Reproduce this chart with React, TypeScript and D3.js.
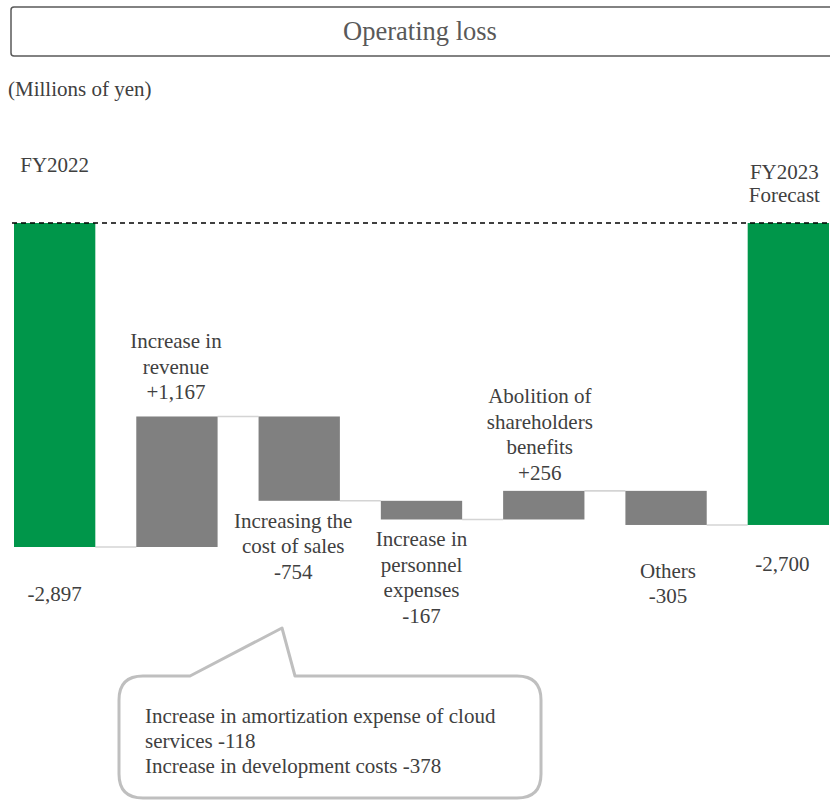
import React from "react";
import * as d3 from "d3";

const categories = [
  "FY2022",
  "Increase in revenue",
  "Increasing the cost of sales",
  "Increase in personnel expenses",
  "Abolition of shareholders benefits",
  "Others",
  "FY2023 Forecast",
];
const values = [-2897, 1167, -754, -167, 256, -305, -2700];
const isTotal = [true, false, false, false, false, false, true];
const nameLines = [
  ["FY2022"],
  ["Increase in", "revenue"],
  ["Increasing the", "cost of sales"],
  ["Increase in", "personnel", "expenses"],
  ["Abolition of", "shareholders", "benefits"],
  ["Others"],
  ["FY2023", "Forecast"],
];
const valueLabels = ["-2,897", "+1,167", "-754", "-167", "+256", "-305", "-2,700"];
const calloutLines = [
  "Increase in amortization expense of cloud",
  "services -118",
  "Increase in development costs -378",
];

const W = 830;
const H = 801;
const GREEN = "#00964a";
const GRAY = "#808080";
const TEXT = "#404040";
const FONT = "'Liberation Serif', 'Times New Roman', serif";

const labelDx = [0, -1, -6, 0, -4, 2, -6];

export default function App() {
  const x = d3.scaleBand<string>().domain(categories).range([14, 829]).paddingInner(0.335).paddingOuter(0);
  const y = d3.scaleLinear().domain([0, -2897]).range([223, 547]);

  let run = 0;
  const bars = values.map((v, i) => {
    let start: number, end: number;
    if (isTotal[i]) {
      start = 0;
      end = v;
    } else {
      start = run;
      end = run + v;
    }
    run = end;
    return { cat: categories[i], v, start, end, i };
  });

  const lh = 25.5;
  const labels: { x: number; y: number; text: string }[] = [];
  bars.forEach((b, i) => {
    const cx = (x(b.cat) as number) + x.bandwidth() / 2 + labelDx[i];
    const lines = isTotal[i] ? nameLines[i] : [...nameLines[i], valueLabels[i]];
    if (isTotal[i]) {
      const topBase = i === 0 ? 172 : 179;
      const nx = i === 0 ? cx : cx + 2;
      lines.forEach((t, k) => labels.push({ x: nx, y: topBase + k * 23, text: t }));
      const vy = y(b.end) + (i === 0 ? 54 : 46);
      labels.push({ x: cx, y: vy, text: valueLabels[i] });
    } else if (b.v > 0) {
      const top = y(Math.max(b.start, b.end));
      const gap = i === 1 ? 17 : 11;
      const n = lines.length;
      lines.forEach((t, k) => labels.push({ x: cx, y: top - gap - (n - 1 - k) * lh, text: t }));
    } else {
      const bottom = y(Math.min(b.start, b.end));
      const gap = i === 5 ? 53 : 27;
      lines.forEach((t, k) => labels.push({ x: cx, y: bottom + gap + k * lh, text: t }));
    }
  });

  const connectors = bars.slice(0, -1).map((b, i) => {
    const next = bars[i + 1];
    return {
      x1: (x(b.cat) as number) + x.bandwidth(),
      x2: x(next.cat) as number,
      y: y(b.end),
    };
  });

  const bx0 = 119, bx1 = 541, by0 = 676, by1 = 798, r = 24;
  const calloutPath = [
    `M${bx0 + r},${by0}`,
    `L190,${by0}`,
    `L282,628`,
    `L295,${by0}`,
    `L${bx1 - r},${by0}`,
    `Q${bx1},${by0} ${bx1},${by0 + r}`,
    `L${bx1},${by1 - r}`,
    `Q${bx1},${by1} ${bx1 - r},${by1}`,
    `L${bx0 + r},${by1}`,
    `Q${bx0},${by1} ${bx0},${by1 - r}`,
    `L${bx0},${by0 + r}`,
    `Q${bx0},${by0} ${bx0 + r},${by0}`,
    "Z",
  ].join(" ");

  return (
    <svg
      width={W}
      height={H}
      style={{ position: "absolute", left: 0, top: 0, background: "#fff", fontFamily: FONT }}
    >
      <rect x={0} y={0} width={W} height={H} fill="#fff" />
      <rect x={11} y={7} width={840} height={49} rx={3} fill="#fff" stroke="#595959" strokeWidth={1.5} />
      <text x={420} y={40} textAnchor="middle" fontSize={26.5} fill="#595959">
        Operating loss
      </text>
      <text x={8} y={96} fontSize={21} fill={TEXT}>
        (Millions of yen)
      </text>

      {connectors.map((c, i) => (
        <line key={i} x1={c.x1} x2={c.x2} y1={c.y} y2={c.y} stroke="#d4d4d4" strokeWidth={1.6} />
      ))}

      {bars.map((b) => (
        <rect
          key={b.cat}
          x={x(b.cat)}
          width={x.bandwidth()}
          y={y(Math.max(b.start, b.end))}
          height={Math.abs(y(b.end) - y(b.start))}
          fill={isTotal[b.i] ? GREEN : GRAY}
        />
      ))}

      <line x1={12} x2={830} y1={y(0)} y2={y(0)} stroke="#000" strokeWidth={1.3} strokeDasharray="5,4" />

      {labels.map((l, i) => (
        <text key={i} x={l.x} y={l.y} textAnchor="middle" fontSize={21} fill={TEXT}>
          {l.text}
        </text>
      ))}

      <path d={calloutPath} fill="#fff" stroke="#bfbfbf" strokeWidth={3} strokeLinejoin="round" />
      {calloutLines.map((t, i) => (
        <text key={i} x={145} y={723 + i * 25} fontSize={21} fill={TEXT}>
          {t}
        </text>
      ))}
    </svg>
  );
}
